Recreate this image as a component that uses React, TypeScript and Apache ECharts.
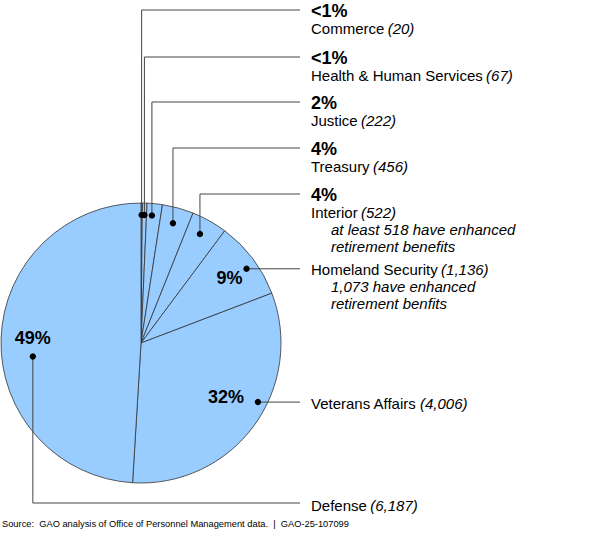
import React, { useEffect, useRef } from "react";
import * as echarts from "echarts";

// ---- Data ----
const categories = [
  "Commerce",
  "Health & Human Services",
  "Justice",
  "Treasury",
  "Interior",
  "Homeland Security",
  "Veterans Affairs",
  "Defense",
];
const values = [20, 67, 222, 456, 522, 1136, 4006, 6187];
const notes: string[][] = [
  [],
  [],
  [],
  [],
  ["at least 518 have enhanced", "retirement benefits"],
  ["1,073 have enhanced", "retirement benfits"],
  [],
  [],
];
const sourceText =
  "Source:  GAO analysis of Office of Personnel Management data.  |  GAO-25-107099";

// ---- Layout ----
const CX = 141;
const CY = 343;
const R = 140;
const FONT = "Arial, 'Liberation Sans', sans-serif";
const LINE = "#444";
// anchor of each label inside its slice: fraction of slice span and radius
const anchors = [
  { f: 0.5, r: 128 },
  { f: 0.5, r: 128 },
  { f: 0.38, r: 128 },
  { f: 0.47, r: 124 },
  { f: 0.44, r: 124 },
  { f: 0.56, r: 129 },
  { f: 0.417, r: 131 },
  { f: 0.45, r: 109 },
];
const modes = ["top", "top", "top", "top", "top", "hs", "va", "bottom"];
const topLineY = [10, 57, 102, 148, 194, 0, 0, 503];
const LINE_END_X = 300;
const TEXT_X = 311;
const NOTE_X = 331;
const Z = 100;

function pctLabel(v: number, total: number) {
  const p = (v / total) * 100;
  return p < 1 ? "<1%" : Math.round(p) + "%";
}

export default function App() {
  const ref = useRef<HTMLDivElement>(null);
  useEffect(() => {
    if (!ref.current) return;
    const chart = echarts.init(ref.current, undefined, { renderer: "svg" });
    const total = values.reduce((a, b) => a + b, 0);
    const graphics: any[] = [];
    const nameStyle = {
      n: { fontSize: 15, fontFamily: FONT, fill: "#000" },
      i: { fontSize: 15, fontFamily: FONT, fontStyle: "italic", fill: "#000" },
    };
    const nameText = (i: number, x: number, y: number) => ({
      type: "text",
      x,
      y,
      z: Z,
      style: {
        text: `{n|${categories[i]}} {i|(${values[i].toLocaleString("en-US")})}`,
        rich: nameStyle,
        verticalAlign: "middle",
        align: "left",
      },
    });
    const noteTexts = (i: number, y0: number) =>
      notes[i].map((t, k) => ({
        type: "text",
        x: NOTE_X,
        y: y0 + k * 17,
        z: Z,
        style: {
          text: t,
          fontSize: 15,
          fontFamily: FONT,
          fontStyle: "italic",
          fill: "#000",
          verticalAlign: "middle",
        },
      }));
    const pctText = (i: number, x: number, y: number, align: string) => ({
      type: "text",
      x,
      y,
      z: Z,
      style: {
        text: pctLabel(values[i], total),
        fontSize: 18,
        fontWeight: "bold",
        fontFamily: FONT,
        fill: "#000",
        align,
        verticalAlign: "middle",
      },
    });

    let cum = 0;
    values.forEach((v, i) => {
      const a0 = (cum / total) * 360;
      const a1 = ((cum + v) / total) * 360;
      cum += v;
      const ang = ((a0 + (a1 - a0) * anchors[i].f) * Math.PI) / 180;
      const dx = CX + anchors[i].r * Math.sin(ang);
      const dy = CY - anchors[i].r * Math.cos(ang);
      const mode = modes[i];
      if (mode === "top") {
        const ly = topLineY[i];
        graphics.push({
          type: "polyline",
          z: Z,
          shape: { points: [[dx, dy], [dx, ly], [LINE_END_X, ly]] },
          style: { stroke: LINE, lineWidth: 1, fill: null },
        });
        graphics.push(pctText(i, TEXT_X, ly + 1, "left"));
        graphics.push(nameText(i, TEXT_X, ly + 18));
        graphics.push(...noteTexts(i, ly + 35));
      } else if (mode === "hs" || mode === "va") {
        graphics.push({
          type: "line",
          z: Z,
          shape: { x1: dx, y1: dy, x2: LINE_END_X, y2: dy },
          style: { stroke: LINE, lineWidth: 1 },
        });
        graphics.push(nameText(i, TEXT_X, dy + 1));
        graphics.push(...noteTexts(i, dy + 18));
        if (mode === "hs") graphics.push(pctText(i, dx - 4, dy + 9, "right"));
        else graphics.push(pctText(i, dx - 14, dy - 5, "right"));
      } else {
        const ly = topLineY[i];
        graphics.push({
          type: "polyline",
          z: Z,
          shape: { points: [[dx, dy], [dx, ly], [LINE_END_X, ly]] },
          style: { stroke: LINE, lineWidth: 1, fill: null },
        });
        graphics.push(pctText(i, dx, dy - 18, "center"));
        graphics.push(nameText(i, TEXT_X, ly + 2));
      }
      graphics.push({
        type: "circle",
        z: Z + 1,
        shape: { cx: dx, cy: dy, r: 3.2 },
        style: { fill: "#000" },
      });
    });

    graphics.push({
      type: "text",
      x: 2,
      y: 524,
      z: Z,
      style: {
        text: sourceText,
        fontSize: 9.3,
        fontFamily: FONT,
        fill: "#000",
        verticalAlign: "middle",
      },
    });

    chart.setOption({
      animation: false,
      backgroundColor: "#fff",
      series: [
        {
          type: "pie",
          center: [CX, CY],
          radius: R,
          startAngle: 90,
          clockwise: true,
          silent: true,
          label: { show: false },
          labelLine: { show: false },
          itemStyle: { color: "#99CCFF", borderColor: "#333", borderWidth: 0.8 },
          emphasis: { disabled: true },
          data: categories.map((c, i) => ({ name: c, value: values[i] })),
        },
      ],
      graphic: graphics,
    });
    return () => chart.dispose();
  }, []);
  return (
    <div
      ref={ref}
      style={{ position: "absolute", left: 0, top: 0, width: 600, height: 540 }}
    />
  );
}
